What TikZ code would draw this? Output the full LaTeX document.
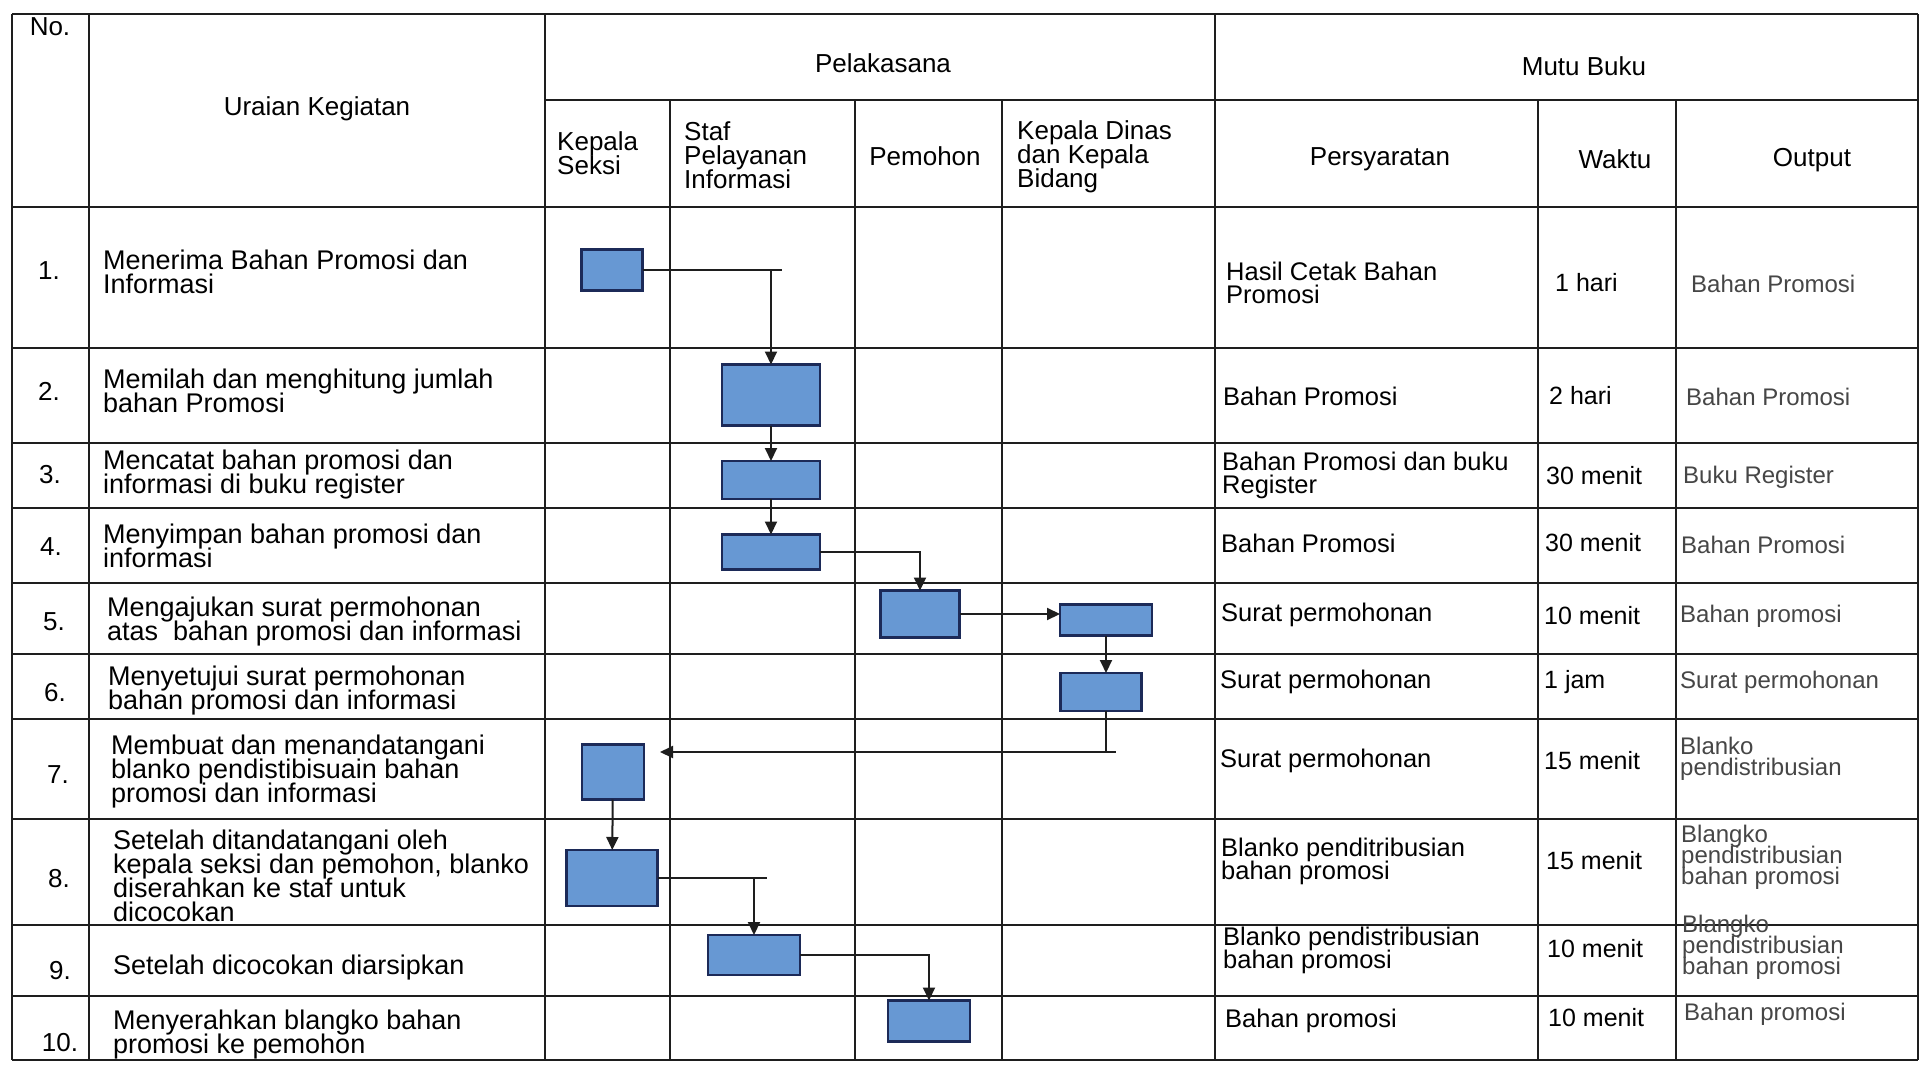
\documentclass[tikz,border=0pt]{standalone}
\usepackage{fontspec}
\setmainfont{Liberation Sans}
\usetikzlibrary{arrows.meta}
\definecolor{boxfill}{RGB}{103,152,211}
\definecolor{boxline}{RGB}{28,42,88}
\definecolor{ink}{RGB}{30,30,30}
\definecolor{soft}{RGB}{70,70,70}
\setlength{\lineskiplimit}{-100pt}
\begin{document}
\begin{tikzpicture}[x=1pt,y=-1pt,
  grid/.style={line width=1.6pt, draw=ink},
  pbox/.style={draw=boxline, fill=boxfill, line width=2.6pt, inner sep=0pt, outer sep=0pt},
  conn/.style={line width=2pt, draw=ink},
  arr/.style={conn, -{Triangle[length=13pt,width=12pt]}},
  hd/.style={inner sep=0pt, font=\fontsize{26}{24}\selectfont},
  hdl/.style={hd, anchor=west, align=left},
  ura/.style={anchor=west, align=left, inner sep=0pt, font=\fontsize{27}{24}\selectfont},
  nom/.style={inner sep=0pt, font=\fontsize{26}{24}\selectfont},
  syar/.style={anchor=west, align=left, inner sep=0pt, font=\fontsize{25.5}{23}\selectfont},
  wkt/.style={anchor=west, inner sep=0pt, font=\fontsize{25}{23}\selectfont},
  outp/.style={anchor=west, align=left, inner sep=0pt, text=soft, font=\fontsize{24}{21}\selectfont}
]
\useasboundingbox (0,0) rectangle (1928,1073);
\fill[white] (0,0) rectangle (1928,1073);

% ---- table grid ----
\draw[grid] (12,14) -- (1918,14);
\draw[grid] (545,100) -- (1918,100);
\foreach \yy in {207,348,443,508,583,654,719,819,925,996,1060}
  \draw[grid] (12,\yy) -- (1918,\yy);
\foreach \xx in {12,89,545,1215,1918}
  \draw[grid] (\xx,14) -- (\xx,1060);
\foreach \xx in {670,855,1002,1538,1676}
  \draw[grid] (\xx,100) -- (\xx,1060);

% ---- headers ----
\node[nom] (hNo) at (50,27) {No.};
\node[hd] (hUr) at (317,109) {Uraian Kegiatan};
\node[hd] (hPel) at (883,63) {Pelakasana};
\node[hd] (hMutu) at (1584,66) {Mutu Buku};
\node[hdl] (hKS) at (557,153) {Kepala\\Seksi};
\node[hdl] (hSPI) at (684,155) {Staf\\Pelayanan\\Informasi};
\node[hd] (hPem) at (925,156) {Pemohon};
\node[hdl] (hKD) at (1017,157) {Kepala Dinas\\dan Kepala\\Bidang};
\node[hd] (hPer) at (1380,159) {Persyaratan};
\node[hd] (hWak) at (1615,159) {Waktu};
\node[hd] (hOut) at (1812,160) {Output};

% ---- numbers ----
\node[nom] (n1) at (49,271) {1.};
\node[nom] (n2) at (49,391) {2.};
\node[nom] (n3) at (50,475) {3.};
\node[nom] (n4) at (51,547) {4.};
\node[nom] (n5) at (54,622) {5.};
\node[nom] (n6) at (55,693) {6.};
\node[nom] (n7) at (58,775) {7.};
\node[nom] (n8) at (59,879) {8.};
\node[nom] (n9) at (60,971) {9.};
\node[nom] (n10) at (60,1043) {10.};

% ---- uraian kegiatan ----
\node[ura] (u1) at (103,272) {Menerima Bahan Promosi dan\\Informasi};
\node[ura] (u2) at (103,391) {Memilah dan menghitung jumlah\\bahan Promosi};
\node[ura] (u3) at (103,475) {Mencatat bahan promosi dan\\informasi di buku register};
\node[ura] (u4) at (103,546) {Menyimpan bahan promosi dan\\informasi};
\node[ura] (u5) at (107,622) {Mengajukan surat permohonan\\atas~ bahan promosi dan informasi};
\node[ura] (u6) at (108,691) {Menyetujui surat permohonan\\bahan promosi dan informasi};
\node[ura] (u7) at (111,772) {Membuat dan menandatangani\\blanko pendistibisuain bahan\\promosi dan informasi};
\node[ura] (u8) at (113,876) {Setelah ditandatangani oleh\\kepala seksi dan pemohon, blanko\\diserahkan ke staf untuk\\dicocokan};
\node[ura] (u9) at (113,968) {Setelah dicocokan diarsipkan};
\node[ura] (u10) at (113,1035) {Menyerahkan blangko bahan\\promosi ke pemohon};

% ---- persyaratan ----
\node[syar] (p1) at (1226,283) {Hasil Cetak Bahan\\Promosi};
\node[syar] (p2) at (1223,396) {Bahan Promosi};
\node[syar] (p3) at (1222,475) {Bahan Promosi dan buku\\Register};
\node[syar] (p4) at (1221,543) {Bahan Promosi};
\node[syar] (p5) at (1221,615) {Surat permohonan};
\node[syar] (p6) at (1220,682) {Surat permohonan};
\node[syar] (p7) at (1220,761) {Surat permohonan};
\node[syar] (p8) at (1221,861) {Blanko penditribusian\\bahan promosi};
\node[syar] (p9) at (1223,950) {Blanko pendistribusian\\bahan promosi};
\node[syar] (p10) at (1225,1021) {Bahan promosi};

% ---- waktu ----
\node[wkt] (w1) at (1555,283) {1 hari};
\node[wkt] (w2) at (1549,396) {2 hari};
\node[wkt] (w3) at (1546,476) {30 menit};
\node[wkt] (w4) at (1545,543) {30 menit};
\node[wkt] (w5) at (1544,616) {10 menit};
\node[wkt] (w6) at (1544,682) {1 jam};
\node[wkt] (w7) at (1544,761) {15 menit};
\node[wkt] (w8) at (1546,861) {15 menit};
\node[wkt] (w9) at (1547,949) {10 menit};
\node[wkt] (w10) at (1548,1018) {10 menit};

% ---- output ----
\node[outp] (o1) at (1691,284) {Bahan Promosi};
\node[outp] (o2) at (1686,397) {Bahan Promosi};
\node[outp] (o3) at (1683,477) {Buku Register};
\node[outp] (o4) at (1681,545) {Bahan Promosi};
\node[outp] (o5) at (1680,616) {Bahan promosi};
\node[outp] (o6) at (1680,682) {Surat permohonan};
\node[outp] (o7) at (1680,759) {Blanko\\pendistribusian};
\node[outp] (o8) at (1681,857) {Blangko\\pendistribusian\\bahan promosi};
\node[outp] (o9) at (1682,947) {Blangko\\pendistribusian\\bahan promosi};
\node[outp] (o10) at (1684,1014) {Bahan promosi};

% ---- process boxes ----
\node[pbox, minimum width=61, minimum height=41] (B1) at (612,270) {};
\node[pbox, minimum width=98, minimum height=61] (B2) at (771,395) {};
\node[pbox, minimum width=98, minimum height=38] (B3) at (771,480) {};
\node[pbox, minimum width=98, minimum height=35] (B4) at (771,552) {};
\node[pbox, minimum width=79, minimum height=47] (B5) at (920,614) {};
\node[pbox, minimum width=92, minimum height=31] (B6) at (1106,620) {};
\node[pbox, minimum width=81, minimum height=38] (B7) at (1101,692) {};
\node[pbox, minimum width=62, minimum height=55] (B8) at (613,772) {};
\node[pbox, minimum width=91, minimum height=56] (B9) at (612,878) {};
\node[pbox, minimum width=92, minimum height=40] (B10) at (754,955) {};
\node[pbox, minimum width=82, minimum height=41] (B11) at (929,1021) {};

% ---- connectors ----
\draw[arr] (B1) -| (B2);
\draw[conn] (B1 -| B2) -- ++(11,0);
\draw[arr] (B2) -- (B3);
\draw[arr] (B3) -- (B4);
\draw[arr] (B4) -| (B5);
\draw[arr] (B5) -- (B5 -| B6.west);
\draw[arr] (B6) -- (B6 |- B7.north);
\coordinate (k7) at (660,752);
\draw[arr] (B6 |- B7.south) |- (k7);
\draw[conn] (B6 |- k7) -- ++(10,0);
\draw[arr] (B8) -- (B9);
\draw[arr] (B9) -| (B10);
\draw[conn] (B9 -| B10) -- ++(13,0);
\draw[arr] (B10) -| (B11);
\end{tikzpicture}
\end{document}
